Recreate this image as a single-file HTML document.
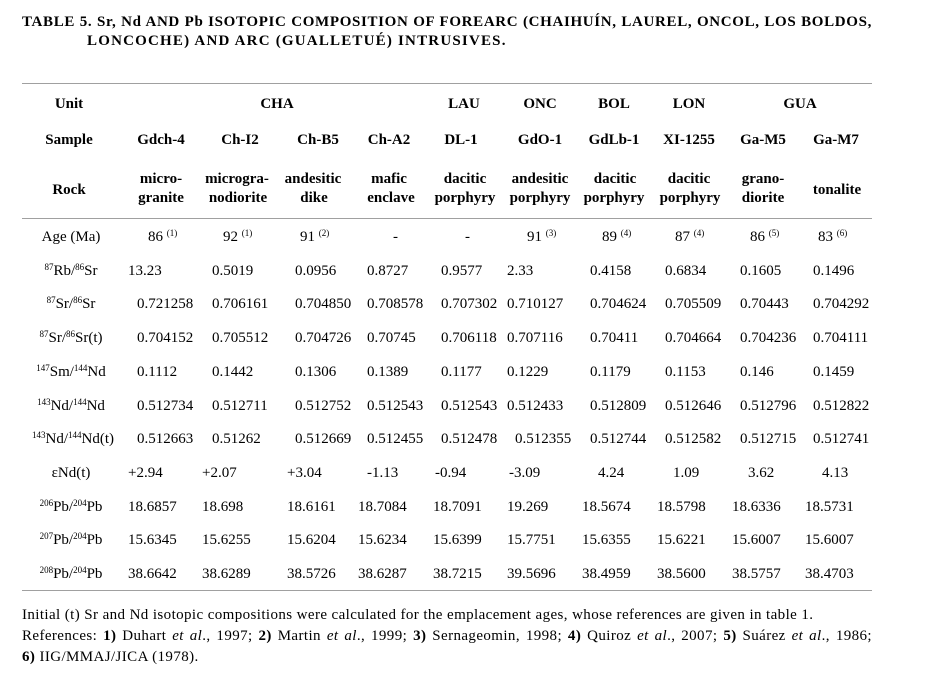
<!DOCTYPE html>
<html>
<head>
<meta charset="utf-8">
<style>
html,body{margin:0;padding:0;}
body{width:937px;height:694px;background:#fff;position:relative;overflow:hidden;font-family:"Liberation Serif","Times New Roman",serif;font-size:15px;line-height:15px;color:#000;}
.t{position:absolute;white-space:nowrap;}
.c{position:absolute;width:160px;text-align:center;white-space:nowrap;}
.j{position:absolute;left:22px;width:850px;text-align:justify;text-align-last:justify;white-space:nowrap;}
.b{font-weight:bold;}
sup{font-size:9px;line-height:0;vertical-align:5px;}
.r{position:absolute;left:22px;width:850px;height:1px;background:#a0a0a0;}
.fn{letter-spacing:0.4px;}
</style>
</head>
<body>

<!-- Title -->
<div class="j b" style="top:14.7px;letter-spacing:0.66px;">TABLE 5. Sr, Nd AND Pb ISOTOPIC COMPOSITION OF FOREARC (CHAIHUÍN, LAUREL, ONCOL, LOS BOLDOS,</div>
<div class="t b" style="left:87px;top:34.4px;letter-spacing:1.2px;">LONCOCHE) AND ARC (GUALLETUÉ) INTRUSIVES.</div>

<!-- Rules -->
<div class="r" style="top:83px;"></div>
<div class="r" style="top:218px;"></div>
<div class="r" style="top:590px;"></div>

<!-- Unit row -->
<div class="c b" style="left:-11px;top:97px;">Unit</div>
<div class="c b" style="left:197px;top:97px;">CHA</div>
<div class="c b" style="left:384px;top:97px;">LAU</div>
<div class="c b" style="left:460px;top:97px;">ONC</div>
<div class="c b" style="left:534px;top:97px;">BOL</div>
<div class="c b" style="left:609px;top:97px;">LON</div>
<div class="c b" style="left:720px;top:97px;">GUA</div>

<!-- Sample row -->
<div class="c b" style="left:-11px;top:133px;">Sample</div>
<div class="c b" style="left:81px;top:133px;">Gdch-4</div>
<div class="c b" style="left:160px;top:133px;">Ch-I2</div>
<div class="c b" style="left:238px;top:133px;">Ch-B5</div>
<div class="c b" style="left:309px;top:133px;">Ch-A2</div>
<div class="c b" style="left:381px;top:133px;">DL-1</div>
<div class="c b" style="left:460px;top:133px;">GdO-1</div>
<div class="c b" style="left:534px;top:133px;">GdLb-1</div>
<div class="c b" style="left:609px;top:133px;">XI-1255</div>
<div class="c b" style="left:683px;top:133px;">Ga-M5</div>
<div class="c b" style="left:756px;top:133px;">Ga-M7</div>

<!-- Rock row -->
<div class="c b" style="left:-11px;top:182.5px;">Rock</div>
<div class="c b" style="left:81px;top:172px;">micro-</div>
<div class="c b" style="left:81px;top:190.5px;">granite</div>
<div class="c b" style="left:157px;top:172px;">microgra-</div>
<div class="c b" style="left:158px;top:190.5px;">nodiorite</div>
<div class="c b" style="left:233px;top:172px;">andesitic</div>
<div class="c b" style="left:234px;top:190.5px;">dike</div>
<div class="c b" style="left:309px;top:172px;">mafic</div>
<div class="c b" style="left:311px;top:190.5px;">enclave</div>
<div class="c b" style="left:385px;top:172px;">dacitic</div>
<div class="c b" style="left:385px;top:190.5px;">porphyry</div>
<div class="c b" style="left:460px;top:172px;">andesitic</div>
<div class="c b" style="left:460px;top:190.5px;">porphyry</div>
<div class="c b" style="left:535px;top:172px;">dacitic</div>
<div class="c b" style="left:534px;top:190.5px;">porphyry</div>
<div class="c b" style="left:609px;top:172px;">dacitic</div>
<div class="c b" style="left:610px;top:190.5px;">porphyry</div>
<div class="c b" style="left:683px;top:172px;">grano-</div>
<div class="c b" style="left:683px;top:190.5px;">diorite</div>
<div class="c b" style="left:757px;top:182.5px;">tonalite</div>

<!-- Row labels -->
<div class="c" style="left:-9px;top:230px;">Age (Ma)</div>
<div class="c" style="left:-9px;top:263.7px;"><sup>87</sup>Rb/<sup>86</sup>Sr</div>
<div class="c" style="left:-9px;top:297.4px;"><sup>87</sup>Sr/<sup>86</sup>Sr</div>
<div class="c" style="left:-9px;top:331.1px;"><sup>87</sup>Sr/<sup>86</sup>Sr(t)</div>
<div class="c" style="left:-9px;top:364.8px;"><sup>147</sup>Sm/<sup>144</sup>Nd</div>
<div class="c" style="left:-9px;top:398.5px;"><sup>143</sup>Nd/<sup>144</sup>Nd</div>
<div class="c" style="left:-7px;top:432.2px;"><sup>143</sup>Nd/<sup>144</sup>Nd(t)</div>
<div class="c" style="left:-9px;top:465.9px;">εNd(t)</div>
<div class="c" style="left:-9px;top:499.6px;"><sup>206</sup>Pb/<sup>204</sup>Pb</div>
<div class="c" style="left:-9px;top:533.3px;"><sup>207</sup>Pb/<sup>204</sup>Pb</div>
<div class="c" style="left:-9px;top:567px;"><sup>208</sup>Pb/<sup>204</sup>Pb</div>

<!-- Age row -->
<div class="t" style="left:148px;top:230px;">86 <sup>(1)</sup></div>
<div class="t" style="left:223px;top:230px;">92 <sup>(1)</sup></div>
<div class="t" style="left:300px;top:230px;">91 <sup>(2)</sup></div>
<div class="t" style="left:393px;top:230px;">-</div>
<div class="t" style="left:465px;top:230px;">-</div>
<div class="t" style="left:527px;top:230px;">91 <sup>(3)</sup></div>
<div class="t" style="left:602px;top:230px;">89 <sup>(4)</sup></div>
<div class="t" style="left:675px;top:230px;">87 <sup>(4)</sup></div>
<div class="t" style="left:750px;top:230px;">86 <sup>(5)</sup></div>
<div class="t" style="left:818px;top:230px;">83 <sup>(6)</sup></div>

<!-- Rb/Sr -->
<div class="t" style="left:128px;top:263.7px;">13.23</div>
<div class="t" style="left:212px;top:263.7px;">0.5019</div>
<div class="t" style="left:295px;top:263.7px;">0.0956</div>
<div class="t" style="left:367px;top:263.7px;">0.8727</div>
<div class="t" style="left:441px;top:263.7px;">0.9577</div>
<div class="t" style="left:507px;top:263.7px;">2.33</div>
<div class="t" style="left:590px;top:263.7px;">0.4158</div>
<div class="t" style="left:665px;top:263.7px;">0.6834</div>
<div class="t" style="left:740px;top:263.7px;">0.1605</div>
<div class="t" style="left:813px;top:263.7px;">0.1496</div>

<!-- Sr/Sr -->
<div class="t" style="left:137px;top:297.4px;">0.721258</div>
<div class="t" style="left:212px;top:297.4px;">0.706161</div>
<div class="t" style="left:295px;top:297.4px;">0.704850</div>
<div class="t" style="left:367px;top:297.4px;">0.708578</div>
<div class="t" style="left:441px;top:297.4px;">0.707302</div>
<div class="t" style="left:507px;top:297.4px;">0.710127</div>
<div class="t" style="left:590px;top:297.4px;">0.704624</div>
<div class="t" style="left:665px;top:297.4px;">0.705509</div>
<div class="t" style="left:740px;top:297.4px;">0.70443</div>
<div class="t" style="left:813px;top:297.4px;">0.704292</div>

<!-- Sr/Sr(t) -->
<div class="t" style="left:137px;top:331.1px;">0.704152</div>
<div class="t" style="left:212px;top:331.1px;">0.705512</div>
<div class="t" style="left:295px;top:331.1px;">0.704726</div>
<div class="t" style="left:367px;top:331.1px;">0.70745</div>
<div class="t" style="left:441px;top:331.1px;">0.706118</div>
<div class="t" style="left:507px;top:331.1px;">0.707116</div>
<div class="t" style="left:590px;top:331.1px;">0.70411</div>
<div class="t" style="left:665px;top:331.1px;">0.704664</div>
<div class="t" style="left:740px;top:331.1px;">0.704236</div>
<div class="t" style="left:813px;top:331.1px;">0.704111</div>

<!-- Sm/Nd -->
<div class="t" style="left:137px;top:364.8px;">0.1112</div>
<div class="t" style="left:212px;top:364.8px;">0.1442</div>
<div class="t" style="left:295px;top:364.8px;">0.1306</div>
<div class="t" style="left:367px;top:364.8px;">0.1389</div>
<div class="t" style="left:441px;top:364.8px;">0.1177</div>
<div class="t" style="left:507px;top:364.8px;">0.1229</div>
<div class="t" style="left:590px;top:364.8px;">0.1179</div>
<div class="t" style="left:665px;top:364.8px;">0.1153</div>
<div class="t" style="left:740px;top:364.8px;">0.146</div>
<div class="t" style="left:813px;top:364.8px;">0.1459</div>

<!-- Nd/Nd -->
<div class="t" style="left:137px;top:398.5px;">0.512734</div>
<div class="t" style="left:212px;top:398.5px;">0.512711</div>
<div class="t" style="left:295px;top:398.5px;">0.512752</div>
<div class="t" style="left:367px;top:398.5px;">0.512543</div>
<div class="t" style="left:441px;top:398.5px;">0.512543</div>
<div class="t" style="left:507px;top:398.5px;">0.512433</div>
<div class="t" style="left:590px;top:398.5px;">0.512809</div>
<div class="t" style="left:665px;top:398.5px;">0.512646</div>
<div class="t" style="left:740px;top:398.5px;">0.512796</div>
<div class="t" style="left:813px;top:398.5px;">0.512822</div>

<!-- Nd/Nd(t) -->
<div class="t" style="left:137px;top:432.2px;">0.512663</div>
<div class="t" style="left:212px;top:432.2px;">0.51262</div>
<div class="t" style="left:295px;top:432.2px;">0.512669</div>
<div class="t" style="left:367px;top:432.2px;">0.512455</div>
<div class="t" style="left:441px;top:432.2px;">0.512478</div>
<div class="t" style="left:515px;top:432.2px;">0.512355</div>
<div class="t" style="left:590px;top:432.2px;">0.512744</div>
<div class="t" style="left:665px;top:432.2px;">0.512582</div>
<div class="t" style="left:740px;top:432.2px;">0.512715</div>
<div class="t" style="left:813px;top:432.2px;">0.512741</div>

<!-- eNd -->
<div class="t" style="left:128px;top:465.9px;">+2.94</div>
<div class="t" style="left:202px;top:465.9px;">+2.07</div>
<div class="t" style="left:287px;top:465.9px;">+3.04</div>
<div class="t" style="left:367px;top:465.9px;">-1.13</div>
<div class="t" style="left:435px;top:465.9px;">-0.94</div>
<div class="t" style="left:509px;top:465.9px;">-3.09</div>
<div class="t" style="left:598px;top:465.9px;">4.24</div>
<div class="t" style="left:673px;top:465.9px;">1.09</div>
<div class="t" style="left:748px;top:465.9px;">3.62</div>
<div class="t" style="left:822px;top:465.9px;">4.13</div>

<!-- 206Pb -->
<div class="t" style="left:128px;top:499.6px;">18.6857</div>
<div class="t" style="left:202px;top:499.6px;">18.698</div>
<div class="t" style="left:287px;top:499.6px;">18.6161</div>
<div class="t" style="left:358px;top:499.6px;">18.7084</div>
<div class="t" style="left:433px;top:499.6px;">18.7091</div>
<div class="t" style="left:507px;top:499.6px;">19.269</div>
<div class="t" style="left:582px;top:499.6px;">18.5674</div>
<div class="t" style="left:657px;top:499.6px;">18.5798</div>
<div class="t" style="left:732px;top:499.6px;">18.6336</div>
<div class="t" style="left:805px;top:499.6px;">18.5731</div>

<!-- 207Pb -->
<div class="t" style="left:128px;top:533.3px;">15.6345</div>
<div class="t" style="left:202px;top:533.3px;">15.6255</div>
<div class="t" style="left:287px;top:533.3px;">15.6204</div>
<div class="t" style="left:358px;top:533.3px;">15.6234</div>
<div class="t" style="left:433px;top:533.3px;">15.6399</div>
<div class="t" style="left:507px;top:533.3px;">15.7751</div>
<div class="t" style="left:582px;top:533.3px;">15.6355</div>
<div class="t" style="left:657px;top:533.3px;">15.6221</div>
<div class="t" style="left:732px;top:533.3px;">15.6007</div>
<div class="t" style="left:805px;top:533.3px;">15.6007</div>

<!-- 208Pb -->
<div class="t" style="left:128px;top:567px;">38.6642</div>
<div class="t" style="left:202px;top:567px;">38.6289</div>
<div class="t" style="left:287px;top:567px;">38.5726</div>
<div class="t" style="left:358px;top:567px;">38.6287</div>
<div class="t" style="left:433px;top:567px;">38.7215</div>
<div class="t" style="left:507px;top:567px;">39.5696</div>
<div class="t" style="left:582px;top:567px;">38.4959</div>
<div class="t" style="left:657px;top:567px;">38.5600</div>
<div class="t" style="left:732px;top:567px;">38.5757</div>
<div class="t" style="left:805px;top:567px;">38.4703</div>

<!-- Footnote -->
<div class="t fn" style="left:22px;top:608px;">Initial (t) Sr and Nd isotopic compositions were calculated for the emplacement ages, whose references are given in table 1.</div>
<div class="j fn" style="top:629.2px;">References: <b>1)</b> Duhart <i>et al</i>., 1997; <b>2)</b> Martin <i>et al</i>., 1999; <b>3)</b> Sernageomin, 1998; <b>4)</b> Quiroz <i>et al</i>., 2007; <b>5)</b> Suárez <i>et al</i>., 1986;</div>
<div class="t fn" style="left:22px;top:650.4px;"><b>6)</b> IIG/MMAJ/JICA (1978).</div>

</body>
</html>
